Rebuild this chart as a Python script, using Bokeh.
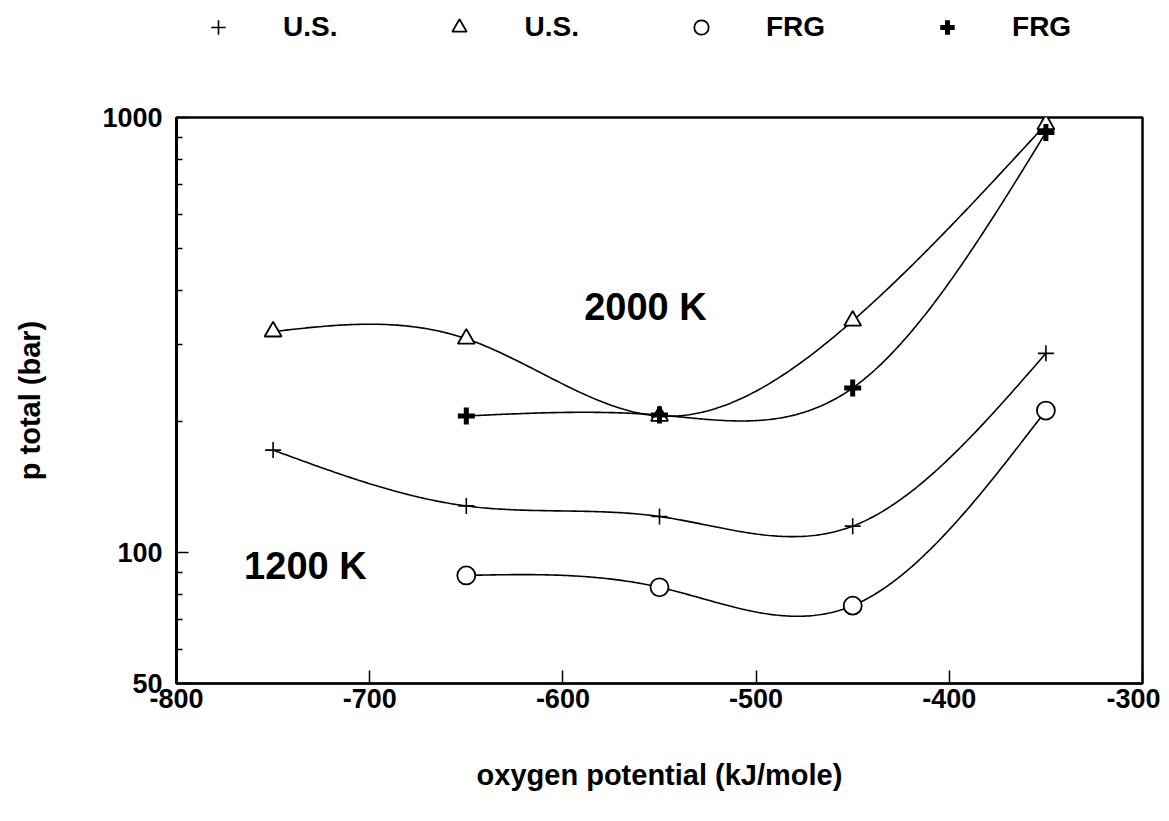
import numpy as np
from bokeh.plotting import figure
from bokeh.layouts import column
from bokeh.models import (FixedTicker, Legend, LegendItem, Label, NumeralTickFormatter)
from bokeh.embed import file_html
from bokeh.resources import INLINE

# ---- data ----
x_us = [-750, -650, -550, -450, -350]
us_1200 = [172, 128, 121, 115, 287]      # thin plus, U.S.
us_2000 = [322, 310, 206, 341, 965]      # triangles, U.S.
x_frg = [-650, -550, -450, -350]
frg_1200 = [88.6, 83.2, 75.5, 212]       # circles, FRG
frg_2000 = [206, 207, 239, 924]          # bold plus, FRG

x_ticks = [-800, -700, -600, -500, -400, -300]
y_ticks = [50, 100, 1000]
y_minor = [60, 70, 80, 90, 200, 300, 400, 500, 600, 700, 800, 900]
legend_labels = ["U.S.", "U.S.", "FRG", "FRG"]

FONT = "Liberation Sans"
W = 1160
TOP_H = 60


def smooth(xs, ys, n=300):
    """Natural cubic spline through the points in log10(y), for drawing only."""
    xs = np.asarray(xs, float)
    ys = np.log10(np.asarray(ys, float))
    k = len(xs)
    h = np.diff(xs)
    A = np.zeros((k, k))
    b = np.zeros(k)
    A[0, 0] = A[-1, -1] = 1.0
    for i in range(1, k - 1):
        A[i, i - 1] = h[i - 1]
        A[i, i] = 2 * (h[i - 1] + h[i])
        A[i, i + 1] = h[i]
        b[i] = 3 * ((ys[i + 1] - ys[i]) / h[i] - (ys[i] - ys[i - 1]) / h[i - 1])
    c = np.linalg.solve(A, b)
    bc = (ys[1:] - ys[:-1]) / h - h * (2 * c[:-1] + c[1:]) / 3
    d = (c[1:] - c[:-1]) / (3 * h)
    xx = np.linspace(xs[0], xs[-1], n)
    idx = np.clip(np.searchsorted(xs, xx) - 1, 0, k - 2)
    dx = xx - xs[idx]
    yy = ys[idx] + bc[idx] * dx + c[idx] * dx ** 2 + d[idx] * dx ** 3
    return xx, 10 ** yy


styles = [
    dict(marker="cross", size=16, line_color="black", line_width=1.6),
    dict(marker="triangle", size=17, line_color="black", fill_color="white", line_width=1.8),
    dict(marker="circle", size=18, line_color="black", fill_color="white", line_width=1.8),
    dict(marker="cross", size=17, line_color="black", line_width=5),
]

# ---------------- main chart ----------------
p = figure(width=W, height=800 - TOP_H, x_range=(-800, -300), y_range=(50, 1000),
           y_axis_type="log", output_backend="svg", toolbar_location=None,
           min_border_left=176, min_border_top=117 - TOP_H, min_border_right=W - 1142,
           min_border_bottom=800 - 683)
p.grid.visible = False
p.outline_line_color = "black"
p.outline_line_width = 2.5
p.background_fill_color = "white"
p.border_fill_color = "white"

series = [(x_us, us_1200), (x_us, us_2000), (x_frg, frg_1200), (x_frg, frg_2000)]
for xs, ys in series:
    sx, sy = smooth(xs, ys)
    p.line(sx, sy, line_color="black", line_width=1.6)
for (xs, ys), st in zip(series, styles):
    p.scatter(xs, ys, **st)

xa = p.xaxis[0]
xa.ticker = FixedTicker(ticks=x_ticks, minor_ticks=[])
xa.major_label_overrides = {t: str(t) for t in x_ticks}
xa.major_tick_in = 13
xa.major_tick_out = 0
xa.minor_tick_in = 0
xa.minor_tick_out = 0
xa.axis_line_width = 2
xa.major_tick_line_width = 1.5
xa.major_label_standoff = 5
xa.major_label_text_font = FONT
xa.major_label_text_font_style = "bold"
xa.major_label_text_font_size = "27px"
xa.major_label_text_color = "black"
xa.axis_label = "oxygen potential (kJ/mole)"
xa.axis_label_text_font = FONT
xa.axis_label_text_font_style = "bold"
xa.axis_label_text_font_size = "29px"
xa.axis_label_text_color = "black"
xa.axis_label_standoff = 48

ya = p.yaxis[0]
ya.ticker = FixedTicker(ticks=y_ticks, minor_ticks=y_minor)
ya.formatter = NumeralTickFormatter(format="0")
ya.major_tick_in = 12
ya.major_tick_out = 0
ya.minor_tick_in = 6
ya.minor_tick_out = 0
ya.axis_line_width = 3
ya.major_tick_line_width = 1.5
ya.minor_tick_line_width = 1.5
ya.major_label_standoff = 14
ya.major_label_text_font = FONT
ya.major_label_text_font_style = "bold"
ya.major_label_text_font_size = "27px"
ya.major_label_text_color = "black"
ya.axis_label = "p total (bar)"
ya.axis_label_text_font = FONT
ya.axis_label_text_font_style = "bold"
ya.axis_label_text_font_size = "29px"
ya.axis_label_text_color = "black"
ya.axis_label_standoff = 53

p.add_layout(Label(x=-589, y=366, text="2000 K", text_font=FONT, text_font_style="bold",
                   text_font_size="38px", text_color="black",
                   text_baseline="middle", text_align="left"))
p.add_layout(Label(x=-765, y=93, text="1200 K", text_font=FONT, text_font_style="bold",
                   text_font_size="38px", text_color="black",
                   text_baseline="middle", text_align="left"))

# ---------------- legend strip on top ----------------
top = figure(width=W, height=TOP_H, x_range=(0, 1), y_range=(0, 1),
             output_backend="svg", toolbar_location=None,
             x_axis_location=None, y_axis_location=None,
             min_border=0, min_border_left=0, min_border_right=0,
             min_border_top=0, min_border_bottom=0)
top.grid.visible = False
top.outline_line_color = None
top.background_fill_color = "white"
top.border_fill_color = "white"

items = []
for lab, st in zip(legend_labels, styles):
    # legend-only renderer: a point placed outside the strip's visible range
    r = top.scatter(x=[5], y=[5], **st)
    items.append(LegendItem(label=lab, renderers=[r]))

legend = Legend(items=items, orientation="horizontal", location=(24, 15),
                glyph_width=36, glyph_height=36, label_standoff=47, spacing=104,
                padding=0, margin=0, label_height=36,
                label_text_font=FONT, label_text_font_style="bold",
                label_text_font_size="28px", label_text_color="black",
                border_line_alpha=0, background_fill_alpha=0)
top.add_layout(legend, "center")

layout = column(top, p, spacing=0)
open("out.html", "w").write(file_html(layout, INLINE))
